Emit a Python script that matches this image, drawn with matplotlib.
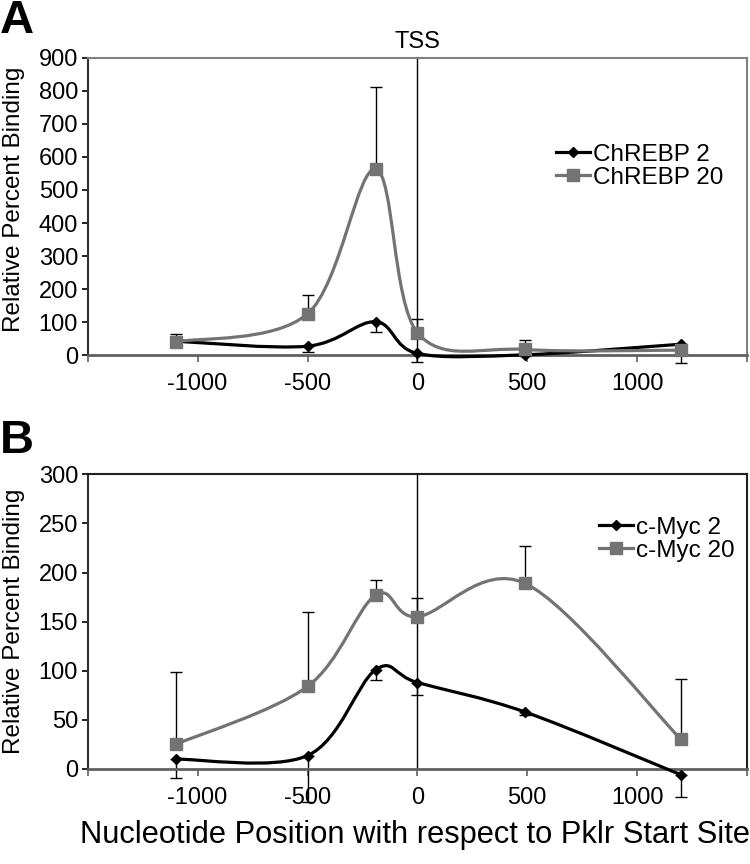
import numpy as np
import matplotlib
matplotlib.use('Agg')
import matplotlib.pyplot as plt
from matplotlib.path import Path
from matplotlib.patches import PathPatch
from matplotlib.lines import Line2D

plt.rcParams['font.family'] = ['Liberation Sans', 'DejaVu Sans']

# nucleotide positions of the amplicons
positions = [-1100, -500, -190, 0, 490, 1200]

# panel A: ChREBP
chrebp_2 = [42, 27, 101, 5, 1, 33]
chrebp_2_err = [5, 19, 32, 27, 3, 58]      # drawn downward
chrebp_20 = [40, 125, 563, 68, 17, 15]
chrebp_20_err = [24, 58, 250, 42, 29, 0]   # drawn upward

# panel B: c-Myc
cmyc_2 = [10, 13.6, 101, 88, 58, -6]
cmyc_2_err = [19, 47, 10, 13, 3, 23]
cmyc_20 = [25, 84, 177, 155, 189, 30]
cmyc_20_err = [74, 76, 15, 19, 38, 62]

xticks = [-1500, -1000, -500, 0, 500, 1000, 1500]
xtick_labels = ['', '-1000', '-500', '0', '500', '1000', '']

BLACK = '#000000'
GRAY = '#737373'


def smooth_path(x, y):
    # Excel-style smoothed line: cubic bezier through points, catmull-rom tangents
    pts = np.column_stack([x, y]).astype(float)
    n = len(pts)
    verts = [pts[0]]
    codes = [Path.MOVETO]
    for i in range(n - 1):
        p0 = pts[max(i - 1, 0)]
        p1 = pts[i]
        p2 = pts[i + 1]
        p3 = pts[min(i + 2, n - 1)]
        verts += [p1 + (p2 - p0) / 6, p2 - (p3 - p1) / 6, p2]
        codes += [Path.CURVE4] * 3
    return Path(verts, codes)


def draw_series(ax, y, err, color, marker, ms, up):
    ax.add_patch(PathPatch(smooth_path(positions, y), fill=False, edgecolor=color,
                           lw=2.3, zorder=3, clip_on=False, capstyle='round'))
    yerr = [np.zeros(len(err)), err] if up else [err, np.zeros(len(err))]
    eb = ax.errorbar(positions, y, yerr=yerr, fmt='none', ecolor='black',
                     elinewidth=1, capsize=4, capthick=1, zorder=2)
    for art in eb.get_children():
        art.set_clip_on(False)
    ax.plot(positions, y, ls='none', marker=marker, ms=ms, color=color,
            zorder=4, clip_on=False)


def style_axes(ax, ymax, ystep, frame_color):
    ax.set_xlim(-1500, 1500)
    ax.set_ylim(0, ymax)
    ax.set_xticks(xticks)
    ax.set_xticklabels(xtick_labels)
    ax.set_yticks(np.arange(0, ymax + 1, ystep))
    ax.tick_params(axis='both', direction='out', labelsize=17, width=1.2)
    ax.tick_params(axis='x', length=5, pad=8, color='#606060')
    ax.tick_params(axis='y', length=4, pad=3)
    ax.spines['left'].set_color('#303030')
    ax.spines['left'].set_linewidth(1.5)
    ax.spines['bottom'].set_color('#606060')
    ax.spines['bottom'].set_linewidth(2)
    for s in ['top', 'right']:
        ax.spines[s].set_color(frame_color)
        ax.spines[s].set_linewidth(1.5)
    ax.axvline(0, color='black', lw=1, zorder=1)


fig = plt.figure(figsize=(7.5, 8.64), dpi=100)

# panel A
axA = fig.add_axes([0.117, 0.589, 0.879, 0.344])
draw_series(axA, chrebp_2, chrebp_2_err, BLACK, 'D', 5, up=False)
draw_series(axA, chrebp_20, chrebp_20_err, GRAY, 's', 8, up=True)
style_axes(axA, 900, 100, '#808080')
axA.annotate('TSS', xy=(0, 1.055), xycoords=('data', 'axes fraction'),
             ha='center', va='center', fontsize=17)

# panel B
axB = fig.add_axes([0.117, 0.110, 0.879, 0.341])
draw_series(axB, cmyc_2, cmyc_2_err, BLACK, 'D', 5, up=False)
draw_series(axB, cmyc_20, cmyc_20_err, GRAY, 's', 8, up=True)
style_axes(axB, 300, 50, '#202020')

for ax, labels, anchor in [(axA, ['ChREBP 2', 'ChREBP 20'], (0.71, 0.635)),
                           (axB, ['c-Myc 2', 'c-Myc 20'], (0.775, 0.78))]:
    handles = [Line2D([], [], color=BLACK, lw=2.3, marker='D', ms=5),
               Line2D([], [], color=GRAY, lw=2.3, marker='s', ms=8)]
    ax.legend(handles, labels, loc='center left', bbox_to_anchor=anchor,
              frameon=False, fontsize=17.5, handlelength=1.4, handletextpad=0.15,
              labelspacing=0.05, borderpad=0, borderaxespad=0)

fig.text(0.019, 1 - 199 / 864, 'Relative Percent Binding', rotation=90,
         ha='center', va='center', fontsize=17.5)
fig.text(0.019, 1 - 621 / 864, 'Relative Percent Binding', rotation=90,
         ha='center', va='center', fontsize=17.5)
fig.text(0.553, 1 - 835 / 864, 'Nucleotide Position with respect to Pklr Start Site',
         ha='center', va='center', fontsize=22.2)
fig.text(0.0, 1 - 21 / 864, 'A', ha='left', va='center', fontsize=34, fontweight='bold')
fig.text(0.0, 1 - 441 / 864, 'B', ha='left', va='center', fontsize=34, fontweight='bold')

fig.savefig('out.png', dpi=100)
